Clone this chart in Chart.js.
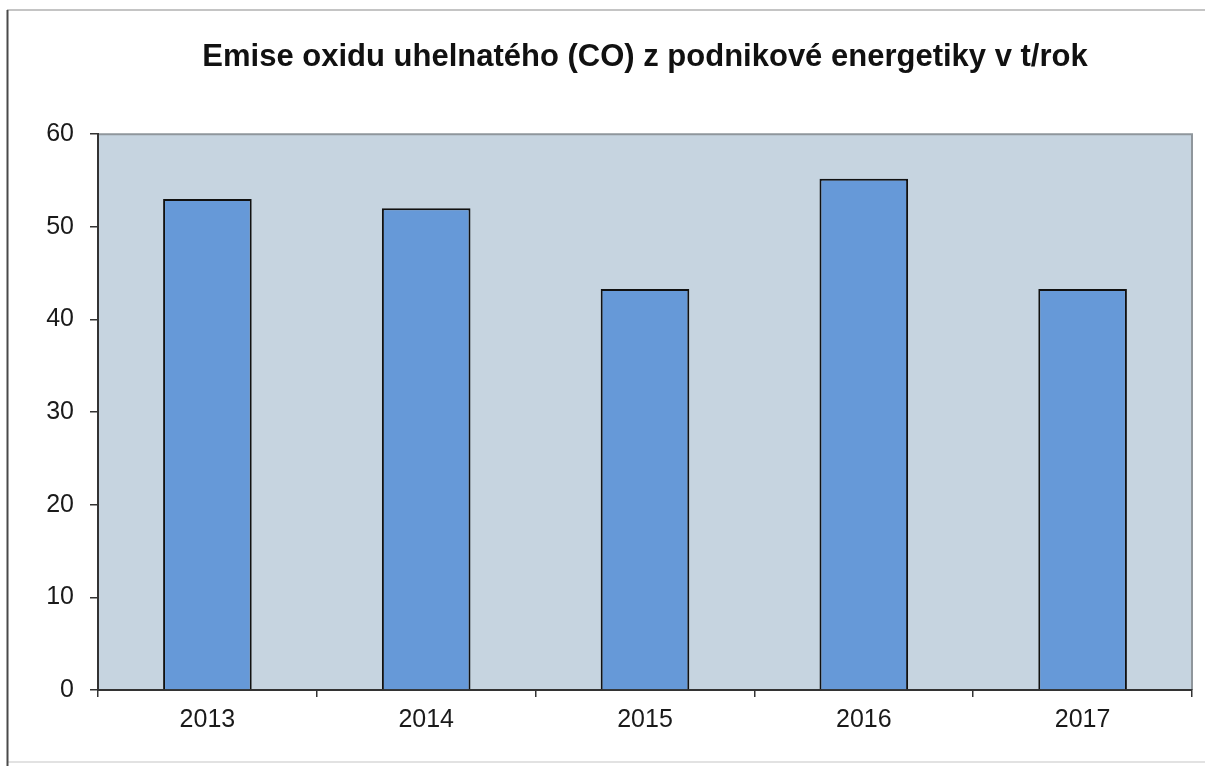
<!DOCTYPE html>
<html lang="cs">
<head>
<meta charset="utf-8">
<title>Emise oxidu uhelnatého (CO)</title>
<script src="https://cdn.jsdelivr.net/npm/chart.js@4/dist/chart.umd.min.js"></script>
<style>
  html, body { margin: 0; padding: 0; background: #ffffff; }
  #wrap { width: 1205px; height: 766px; position: relative; }
</style>
</head>
<body>
<div id="wrap"><canvas id="c" width="1205" height="766"></canvas></div>
<script>
// Roky a emise CO (t/rok)
const years = ['2013', '2014', '2015', '2016', '2017'];
const emissionsCO = [53, 52, 43.3, 55.2, 43.3];
const yTicks = [0, 10, 20, 30, 40, 50, 60];
const chartTitle = 'Emise oxidu uhelnatého (CO) z podnikové energetiky v t/rok';

const FONT = '"Liberation Sans", Arial, Helvetica, sans-serif';

// Frame of the page, plot-area fill and its light top/right edge
const plotBackground = {
  id: 'plotBackground',
  beforeDraw(chart) {
    const { ctx, chartArea: a, width, height } = chart;
    ctx.save();
    ctx.fillStyle = '#ffffff';
    ctx.fillRect(0, 0, width, height);
    // outer frame
    ctx.strokeStyle = '#c4c4c4';
    ctx.lineWidth = 2;
    ctx.beginPath();
    ctx.moveTo(7, 10); ctx.lineTo(width, 10);
    ctx.stroke();
    ctx.strokeStyle = '#e2e2e2';
    ctx.beginPath();
    ctx.moveTo(7, 762); ctx.lineTo(width, 762);
    ctx.stroke();
    ctx.strokeStyle = '#4a4a4a';
    ctx.beginPath();
    ctx.moveTo(7.5, 10); ctx.lineTo(7.5, height);
    ctx.stroke();
    // plot area
    ctx.fillStyle = '#c6d4e0';
    ctx.fillRect(a.left, a.top, a.right - a.left, a.bottom - a.top);
    ctx.strokeStyle = '#8f969c';
    ctx.lineWidth = 2;
    ctx.beginPath();
    ctx.moveTo(a.left, a.top);
    ctx.lineTo(a.right, a.top);
    ctx.lineTo(a.right, a.bottom);
    ctx.stroke();
    ctx.restore();
  }
};

new Chart(document.getElementById('c'), {
  type: 'bar',
  data: {
    labels: years,
    datasets: [{
      data: emissionsCO,
      backgroundColor: '#6699d8',
      borderColor: '#111111',
      borderWidth: 2,
      barPercentage: 0.405,
      categoryPercentage: 1.0
    }]
  },
  options: {
    responsive: false,
    animation: false,
    layout: { padding: { left: 0, right: 13, top: 0, bottom: 0 } },
    plugins: {
      legend: { display: false },
      tooltip: { enabled: false },
      title: {
        display: true,
        fullSize: false,
        text: chartTitle,
        color: '#111111',
        font: { family: FONT, size: 31, weight: 'bold' },
        padding: { top: 39, bottom: 58 }
      }
    },
    scales: {
      x: {
        offset: true,
        grid: {
          offset: true,
          drawOnChartArea: false,
          drawTicks: true,
          tickLength: 7,
          color: '#333333',
          lineWidth: 1.5
        },
        border: { display: true, color: '#333333', width: 2 },
        ticks: {
          color: '#1a1a1a',
          font: { family: FONT, size: 25 },
          padding: 8,
          maxRotation: 0
        },
        afterFit(scale) { scale.height = 76; }
      },
      y: {
        min: 0,
        max: 60,
        afterBuildTicks(scale) { scale.ticks = yTicks.map(v => ({ value: v })); },
        grid: {
          drawOnChartArea: false,
          drawTicks: true,
          tickLength: 8,
          color: '#333333',
          lineWidth: 1.5
        },
        border: { display: true, color: '#333333', width: 2 },
        ticks: {
          color: '#1a1a1a',
          font: { family: FONT, size: 25 },
          padding: 16
        },
        afterFit(scale) { scale.width = 98; }
      }
    }
  },
  plugins: [plotBackground]
});
</script>
</body>
</html>
